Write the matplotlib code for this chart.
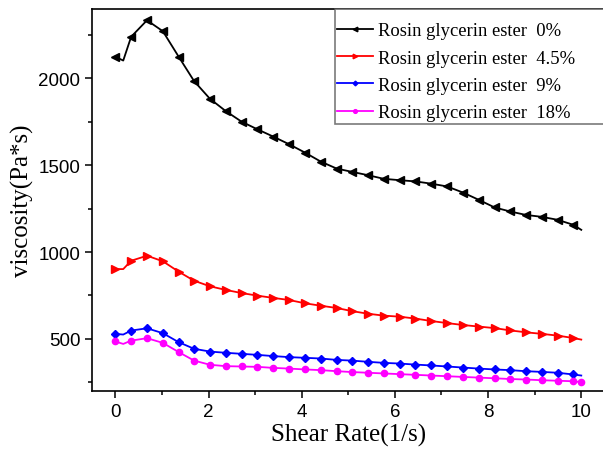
import numpy as np
import matplotlib
matplotlib.use("Agg")
import matplotlib.pyplot as plt
from matplotlib.ticker import MultipleLocator

# shear rate (1/s): marker points every ~0.339, plus the dip point at 0.17 and the end at 10
shear_rate = [0.0, 0.17, 0.34, 0.68, 1.02, 1.36, 1.69, 2.03, 2.37, 2.71, 3.05,
              3.39, 3.73, 4.07, 4.41, 4.75, 5.08, 5.42, 5.76, 6.10, 6.44,
              6.78, 7.12, 7.46, 7.80, 8.14, 8.47, 8.81, 9.15, 9.49, 9.83, 10.0]

visc_0 = [2125, 2103, 2240, 2335, 2272, 2125, 1985, 1883, 1812, 1751, 1707,
          1665, 1621, 1573, 1521, 1481, 1462, 1443, 1422, 1414, 1407,
          1394, 1378, 1343, 1301, 1257, 1234, 1214, 1203, 1186, 1157, 1128]
visc_45 = [902, 902, 950, 979, 947, 887, 835, 803, 782, 764, 749,
           736, 724, 705, 691, 678, 660, 645, 634, 628, 617,
           603, 591, 580, 571, 562, 549, 538, 529, 519, 505, 496]
visc_9 = [529, 525, 548, 561, 533, 481, 443, 427, 420, 414, 408,
          401, 395, 391, 387, 379, 375, 368, 362, 358, 352,
          347, 341, 335, 329, 324, 320, 314, 310, 305, 295, 289]
visc_18 = [485, 471, 490, 504, 477, 424, 375, 351, 343, 341, 339,
           333, 329, 324, 320, 314, 309, 305, 301, 297, 293,
           289, 285, 281, 277, 273, 269, 266, 262, 259, 256, 251]

labels = ["Rosin glycerin ester  0%", "Rosin glycerin ester  4.5%",
          "Rosin glycerin ester  9%", "Rosin glycerin ester  18%"]

# markers on every point except the dip (index 1) and the last one
mark_idx = [0] + list(range(2, 31))

fig = plt.figure(figsize=(6.03, 4.56), dpi=100)
ax = fig.add_axes([0.1526, 0.1404, 0.85, 0.8377])

series = [
    (visc_0, "black", "<", 5.5, mark_idx),
    (visc_45, "#ff0000", ">", 5.5, mark_idx),
    (visc_9, "#0000ff", "D", 4.0, mark_idx),
    (visc_18, "#ff00ff", "o", 4.5, mark_idx + [31]),
]
for (y, col, mk, ms, me), lab in zip(series, labels):
    ax.plot(shear_rate, y, color=col, marker=mk, markersize=ms, markevery=me,
            linewidth=1.3, label=lab)

ax.set_xlim(-0.5, 10.5)
ax.set_ylim(200, 2400)
ax.xaxis.set_major_locator(MultipleLocator(2))
ax.xaxis.set_minor_locator(MultipleLocator(1))
ax.yaxis.set_major_locator(MultipleLocator(500))
ax.yaxis.set_minor_locator(MultipleLocator(250))
ax.tick_params(which="major", direction="out", length=5, width=1.1,
               labelsize=13.5, labelfontfamily="Liberation Sans")
ax.tick_params(which="minor", direction="out", length=3, width=1.1)
for s in ax.spines.values():
    s.set_linewidth(1.2)

ax.set_xlabel("Shear Rate(1/s)", fontsize=18, family="Liberation Serif", labelpad=2)
ax.set_ylabel("viscosity(Pa*s)", fontsize=18, family="Liberation Serif", labelpad=3)

# legend box runs off the right edge, as in the original; blank title adds top space
leg = ax.legend(loc="upper left", bbox_to_anchor=(0.474, 0.0, 0.56, 1.0),
                mode="expand", title=" ", title_fontsize=1,
                prop={"family": "Liberation Serif", "size": 13.4},
                frameon=True, fancybox=False, edgecolor="0.35",
                handlelength=1.9, handletextpad=0.3, labelspacing=0.55,
                borderpad=0.12, borderaxespad=0.0, markerscale=0.6)
leg.get_frame().set_linewidth(1.2)

fig.savefig("out.png", dpi=100)
